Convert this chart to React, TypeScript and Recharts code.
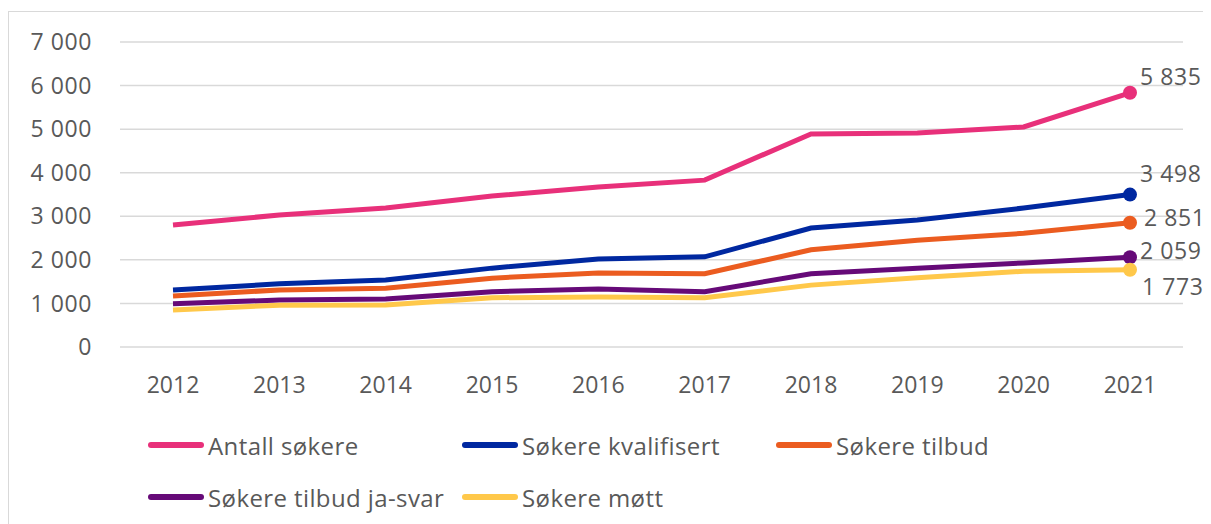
import { LineChart, Line, XAxis, YAxis, CartesianGrid, LabelList } from "recharts"

const years = ["2012", "2013", "2014", "2015", "2016", "2017", "2018", "2019", "2020", "2021"]

const antall = [2800, 3030, 3190, 3465, 3670, 3830, 4890, 4910, 5050, 5835]
const kvalifisert = [1310, 1450, 1540, 1810, 2020, 2070, 2730, 2915, 3190, 3498]
const tilbud = [1170, 1310, 1350, 1580, 1700, 1680, 2230, 2450, 2610, 2851]
const jaSvar = [990, 1080, 1100, 1270, 1330, 1270, 1680, 1810, 1930, 2059]
const mott = [850, 960, 965, 1130, 1150, 1130, 1420, 1590, 1740, 1773]

const yTicks = [0, 1000, 2000, 3000, 4000, 5000, 6000, 7000]

const series = [
  { key: "antall", name: "Antall søkere", values: antall, color: "#E8307A", dx: 10, dy: -16 },
  { key: "kvalifisert", name: "Søkere kvalifisert", values: kvalifisert, color: "#0028A0", dx: 10, dy: -21 },
  { key: "tilbud", name: "Søkere tilbud", values: tilbud, color: "#EB5C20", dx: 14, dy: -5 },
  { key: "jaSvar", name: "Søkere tilbud ja-svar", values: jaSvar, color: "#660A78", dx: 10, dy: -7 },
  { key: "mott", name: "Søkere møtt", values: mott, color: "#FFC84A", dx: 12, dy: 17 },
]

const data = years.map((year, i) => {
  const row: Record<string, any> = { year }
  series.forEach((s) => (row[s.key] = s.values[i]))
  return row
})

const fmt = (v: number) => String(v).replace(/\B(?=(\d{3})+(?!\d))/g, " ")

const FONT = "'Open Sans', sans-serif"
const TEXT = "#595959"
const last = years.length - 1

export default function App() {
  return (
    <div
      style={{
        marginTop: 3,
        width: 1211,
        height: 520,
        borderTop: "1px solid #d9d9d9",
        borderLeft: "1px solid #d9d9d9",
        boxSizing: "border-box",
        position: "relative",
        fontFamily: FONT,
      }}
    >
      <LineChart
        width={1202}
        height={395}
        data={data}
        margin={{ top: 30, right: 28, bottom: 0, left: 0 }}
        style={{ overflow: "visible" }}
      >
        <CartesianGrid vertical={false} stroke="#d9d9d9" strokeWidth={1.5} />
        <XAxis
          dataKey="year"
          padding={{ left: 53, right: 53 }}
          axisLine={false}
          tickLine={false}
          tickSize={0}
          tickMargin={30}
          height={60}
          tick={{ fill: TEXT, fontSize: 23, fontFamily: FONT }}
        />
        <YAxis
          domain={[0, 7000]}
          ticks={yTicks}
          tickFormatter={fmt}
          width={111}
          axisLine={false}
          tickLine={false}
          tickSize={0}
          tickMargin={28}
          tick={{ fill: TEXT, fontSize: 23, fontFamily: FONT, letterSpacing: 0.6 }}
        />
        {series.map((s) => (
          <Line
            key={s.key}
            dataKey={s.key}
            name={s.name}
            type="linear"
            stroke={s.color}
            strokeWidth={5}
            isAnimationActive={false}
            dot={(p: any) =>
              p.index === last ? (
                <circle key={p.index} cx={p.cx} cy={p.cy} r={7} fill={s.color} />
              ) : (
                <g key={p.index} />
              )
            }
            activeDot={false}
          >
            <LabelList
              dataKey={s.key}
              content={(p: any) =>
                p.index === last ? (
                  <text
                    x={p.x + s.dx}
                    y={p.y + s.dy}
                    dy="0.36em"
                    fill={TEXT}
                    fontSize={23}
                    fontFamily={FONT}
                    letterSpacing={0.6}
                    textAnchor="start"
                  >
                    {fmt(p.value)}
                  </text>
                ) : null
              }
            />
          </Line>
        ))}
      </LineChart>
      <div
        style={{
          position: "absolute",
          left: 139,
          top: 418,
          width: 960,
          display: "flex",
          flexWrap: "wrap",
          rowGap: 22,
        }}
      >
        {series.map((s) => (
          <div key={s.key} style={{ width: 314, display: "flex", alignItems: "center", height: 30 }}>
            <span
              style={{
                display: "inline-block",
                width: 56,
                height: 6,
                borderRadius: 3,
                background: s.color,
                marginRight: 4,
              }}
            />
            <span style={{ color: TEXT, fontSize: 24, letterSpacing: 0.4, whiteSpace: "nowrap" }}>{s.name}</span>
          </div>
        ))}
      </div>
    </div>
  )
}
